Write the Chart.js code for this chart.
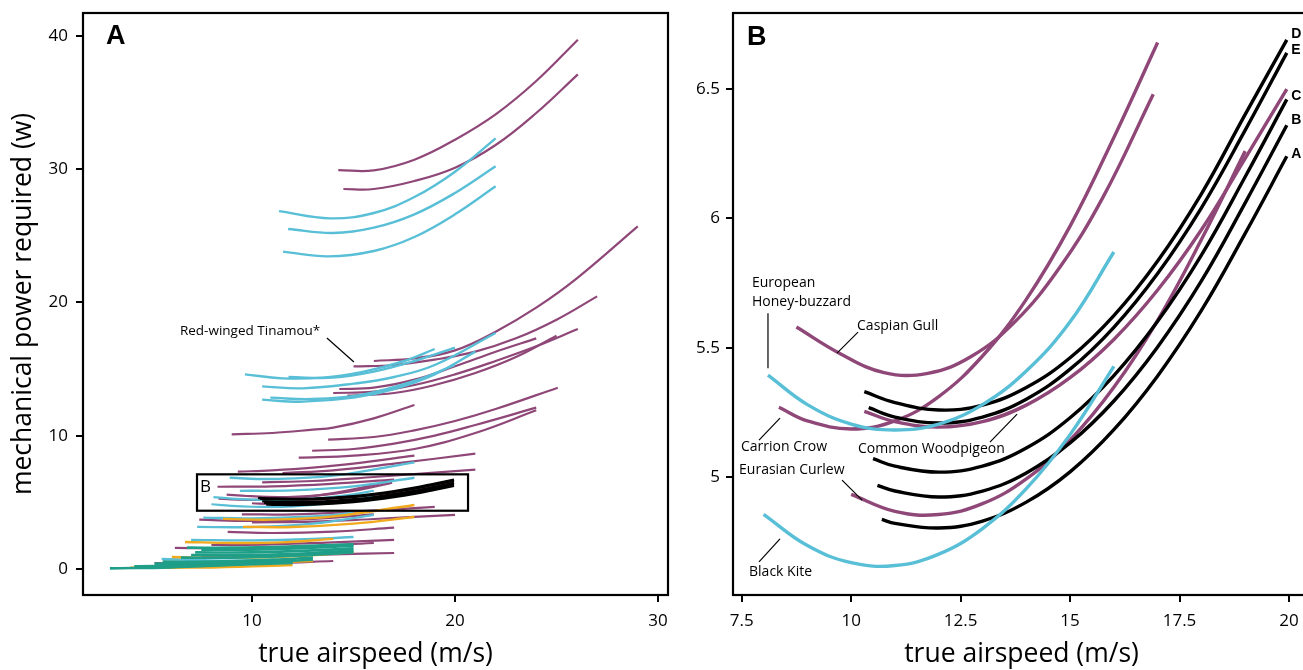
<!DOCTYPE html>
<html>
<head>
<meta charset="utf-8">
<script src="https://cdn.jsdelivr.net/npm/chart.js@4.4.1/dist/chart.umd.min.js"></script>
<style>
  html, body { margin: 0; padding: 0; background: #fff; overflow: hidden; width: 1303px; height: 670px; }
  #wrapA { position: absolute; left: 0; top: 0; width: 680px; height: 670px; }
  #wrapB { position: absolute; left: 650px; top: 0; width: 680px; height: 670px; }
</style>
</head>
<body>
<div id="wrapA"><canvas id="panelA"></canvas></div>
<div id="wrapB"><canvas id="panelB"></canvas></div>
<script>
const PURPLE = "#8f4778";
const CYAN = "#58bfd7";
const ORANGE = "#f1a91d";
const GREEN = "#1f9e88";
const BLACK = "#000000";

// tick labels
const ticksAx = [10, 20, 30];
const ticksAy = [0, 10, 20, 30, 40];
const ticksBx = [7.5, 10, 12.5, 15, 17.5, 20];
const ticksBy = [5, 5.5, 6, 6.5];

// panel B curves: [airspeed m/s, power W]
const birdA = [[10.7,4.836],[11,4.821],[12,4.803],[13,4.83],[14,4.903],[15,5.02],[16,5.183],[17,5.391],[18,5.644],[19,5.942],[19.95,6.24]];
const birdB = [[10.6,4.968],[11,4.946],[12,4.923],[13,4.946],[14,5.016],[15,5.132],[16,5.294],[17,5.503],[18,5.758],[19,6.06],[19.95,6.36]];
const birdC = [[10.5,5.071],[11,5.042],[12,5.019],[13,5.042],[14,5.112],[15,5.229],[16,5.392],[17,5.602],[18,5.858],[19,6.161],[19.95,6.46]];
const birdD = [[10.3,5.33],[11,5.288],[12,5.259],[13,5.278],[14,5.346],[15,5.461],[16,5.624],[17,5.835],[18,6.095],[19,6.402],[19.95,6.69]];
const birdE = [[10.4,5.268],[11,5.232],[12,5.209],[13,5.232],[14,5.301],[15,5.417],[16,5.579],[17,5.787],[18,6.041],[19,6.341],[19.95,6.64]];
const woodpigeon = [[10.3,5.254],[11,5.214],[12,5.193],[13,5.214],[14,5.278],[15,5.384],[16,5.532],[17,5.723],[18,5.956],[19,6.232],[19.95,6.5]];
const curlew = [[10,4.933],[11,4.867],[12,4.855],[13,4.897],[14,4.993],[15,5.143],[16,5.347],[17,5.606],[18,5.918],[19,6.26]];
const caspianGull = [[8.75,5.58],[9.75,5.477],[10.75,5.404],[11.75,5.401],[12.75,5.467],[13.75,5.602],[14.75,5.807],[15.75,6.081],[16.9,6.48]];
const carrionCrow = [[8.35,5.27],[9,5.217],[10,5.186],[11,5.217],[12,5.311],[13,5.468],[14,5.687],[15,5.97],[16,6.313],[17,6.68]];
const honeyBuzzard = [[8.1,5.394],[9,5.28],[10,5.205],[11,5.182],[12,5.205],[13,5.28],[14,5.41],[15,5.6],[16,5.87]];
const blackKite = [[8,4.856],[9,4.735],[10,4.669],[11,4.658],[12,4.702],[13,4.801],[14,4.955],[15,5.164],[16,5.428]];

// panel A: other species
const purpleA = [
  [[14.25,29.92],[16,29.9],[18,30.7],[20,32.2],[22,34.1],[24,36.6],[26.05,39.7]],
  [[14.5,28.5],[16,28.5],[18,29.1],[20,30.1],[22,31.8],[24,34.2],[26.05,37.1]],
  [[16,15.6],[18,15.8],[20,16.4],[22,17.8],[24,19.6],[26,21.8],[29,25.7]],
  [[15,15.2],[17,15.3],[19,15.7],[21,16.3],[23,17.3],[25,18.7],[27,20.45]],
  [[14,13.2],[16,13.3],[18,13.8],[20,14.6],[22,15.6],[24,16.7],[26.05,18.0]],
  [[14.7,13.0],[17,13.2],[19,13.8],[21,14.7],[23,15.9],[25,17.5]],
  [[14.3,13.5],[16,13.6],[18,14.2],[20,15.2],[22,16.3],[24,17.3]],
  [[9,10.1],[11,10.2],[13,10.45],[14,10.6],[16,11.3],[18,12.3]],
  [[13.75,9.7],[16,9.9],[18,10.4],[20,11.1],[22,12.0],[25.06,13.6]],
  [[12.96,8.87],[15,9.0],[17,9.4],[19,10.0],[21,10.8],[24,12.1]],
  [[12.3,8.35],[15,8.5],[18,9.0],[21,10.2],[24,11.9]],
  [[9.3,7.3],[11,7.4],[13,7.6],[15,7.9],[18,8.5]],
  [[11.5,7.2],[14,7.4],[17,7.9],[21,8.65]],
  [[10.5,6.5],[13,6.6],[16,6.9],[21,7.45]],
  [[8.3,6.17],[11,6.2],[14,6.4],[17,6.7]],
  [[9.5,4.1],[12,4.1],[15,4.3],[19,4.66]],
  [[10,3.5],[13,3.55],[16,3.75],[20,4.06]],
  [[8.8,2.78],[11,2.7],[14,2.8],[17,3.1]],
  [[7.4,3.7],[10,3.6],[13,3.75],[16,4.1]],
  [[8,1.8],[11,1.85],[14,2.0],[17,2.18]],
  [[6.2,1.58],[9,1.55],[12,1.65],[16,1.95]],
  [[7.5,0.9],[11,1.0],[14,1.1],[17,1.2]],
  [[5.2,0.45],[8,0.4],[11,0.45],[14,0.6]]
];
const cyanA = [
  [[11.33,26.84],[13.85,26.3],[16,26.7],[18,27.9],[20,29.8],[22,32.3]],
  [[11.78,25.5],[14,25.2],[16,25.6],[18,26.6],[20,28.2],[22,30.2]],
  [[11.53,23.8],[13.75,23.45],[16,23.85],[18,24.9],[20,26.6],[22,28.7]],
  [[9.65,14.6],[11.5,14.3],[13.5,14.35],[15.5,14.8],[17.5,15.6],[19,16.5]],
  [[10.5,13.7],[12.5,13.55],[15,13.9],[17,14.4],[19,15.3],[22,17.7]],
  [[10.5,12.7],[12.5,12.55],[15,12.85],[17,13.5],[19,14.6],[21,16.3]],
  [[10.9,12.85],[13,12.75],[15.5,13.1],[18,14.1],[20,15.3]],
  [[11.8,14.4],[14,14.35],[16,14.8],[18,15.6],[20,16.6]],
  [[8.9,6.84],[11,6.75],[14,7.0],[18,8.0]],
  [[9.4,5.86],[12,5.9],[15,6.2],[18,6.84]],
  [[7.6,3.85],[10,3.8],[13,3.95],[15,4.2]],
  [[7.3,3.16],[10,3.15],[13,3.4],[16,4.06]],
  [[7.0,2.18],[10,2.15],[13,2.25],[15,2.4]],
  [[5.55,0.75],[8,0.65],[10,0.63],[12,0.68]]
];
const orangeA = [
  [[8.57,3.76],[11,3.7],[14,3.95],[18,4.8]],
  [[9.55,3.16],[12,3.15],[15,3.4],[18,3.9]],
  [[6.7,2.03],[9,1.95],[11.5,2.0],[14,2.26]],
  [[6.05,0.9],[9,0.85],[12,0.95],[15,1.28]],
  [[6.5,0.5],[9,0.45],[11,0.5],[13,0.6]],
  [[4.0,0.1],[7,0.1],[10,0.2],[12,0.3]]
];
const greenA = [
  [[3.0,0.05],[6,0.12],[9,0.3],[12,0.45]],
  [[4.2,0.2],[7,0.25],[10,0.4],[12,0.55]],
  [[5.2,0.4],[8,0.4],[11,0.55],[13,0.7]],
  [[5.6,0.55],[8,0.55],[11,0.7],[13,0.85]],
  [[6.5,0.85],[9,0.85],[12,1.0],[15,1.25]],
  [[7.0,1.05],[10,1.05],[13,1.2],[15,1.4]],
  [[7.2,1.25],[10,1.25],[13,1.4],[15,1.55]],
  [[7.5,1.45],[10,1.45],[13,1.6],[15,1.75]],
  [[6.8,1.6],[9,1.6],[12,1.7],[15,1.85]]
];

const blackB = [birdA, birdB, birdC, birdD, birdE];
const purpleB = [woodpigeon, curlew, caspianGull, carrionCrow];
const cyanB = [honeyBuzzard, blackKite];

const FONT = "'Open Sans', 'DejaVu Sans', sans-serif";

function curve(pts, color, width, order) {
  return {
    data: pts.map(([x, y]) => ({ x, y })),
    borderColor: color,
    borderWidth: width,
    pointRadius: 0,
    fill: false,
    tension: 0.4,
    order: order,
  };
}

// frame + text notes, given in data units
function notes(cfg) {
  return {
    id: "notes",
    afterDatasetsDraw(chart) {
      const { ctx, chartArea: a, scales: { x, y } } = chart;
      ctx.save();
      ctx.strokeStyle = "#000";
      ctx.lineWidth = 1.2;
      (cfg.leaders || []).forEach(([x1, y1, x2, y2]) => {
        ctx.beginPath();
        ctx.moveTo(x.getPixelForValue(x1), y.getPixelForValue(y1));
        ctx.lineTo(x.getPixelForValue(x2), y.getPixelForValue(y2));
        ctx.stroke();
      });
      ctx.lineWidth = 2.2;
      (cfg.boxes || []).forEach(([x1, y1, x2, y2]) => {
        const px = x.getPixelForValue(x1), py = y.getPixelForValue(y1);
        ctx.strokeRect(px, py, x.getPixelForValue(x2) - px, y.getPixelForValue(y2) - py);
      });
      ctx.fillStyle = "#000";
      ctx.textBaseline = "middle";
      ctx.textAlign = "left";
      (cfg.texts || []).forEach(([txt, tx, ty, font]) => {
        ctx.font = font;
        ctx.fillText(txt, x.getPixelForValue(tx), y.getPixelForValue(ty));
      });
      ctx.lineWidth = 2.2;
      ctx.strokeRect(a.left, a.top, a.right - a.left, a.bottom - a.top);
      ctx.restore();
    },
  };
}

function axis(min, max, ticks, title, pad, titlePad) {
  return {
    type: "linear",
    min: min,
    max: max,
    afterBuildTicks: (s) => { s.ticks = ticks.map((v) => ({ value: v })); },
    afterFit: (s) => {
      if (s.isHorizontal()) s.height = 75; else s.width = 83;
      s.paddingTop = 0; s.paddingBottom = 0; s.paddingLeft = 0; s.paddingRight = 0;
    },
    ticks: { color: "#000", font: { family: FONT, size: 17 }, padding: pad, maxRotation: 0, callback: (v) => String(v) },
    grid: { drawOnChartArea: false, drawTicks: true, tickLength: 7, color: "#000", lineWidth: 2 },
    border: { display: false },
    title: { display: !!title, text: title, color: "#000", font: { family: FONT, size: 26.5 }, padding: titlePad },
  };
}

function baseOptions(scales, padRight) {
  return {
    responsive: true,
    maintainAspectRatio: false,
    animation: false,
    layout: { padding: { top: 13, right: padRight, left: 0, bottom: 0 } },
    plugins: { legend: { display: false }, tooltip: { enabled: false } },
    scales: scales,
  };
}

const LABEL = "14px " + FONT;
const LETTER = "bold 14px 'Liberation Sans', Arial, sans-serif";
const PANEL = "bold 27px 'Liberation Sans', Arial, sans-serif";

// panel A
const dsA = [];
blackB.forEach((c) => dsA.push(curve(c, BLACK, 2.4, 0)));
greenA.forEach((c) => dsA.push(curve(c, GREEN, 2.6, 1)));
orangeA.forEach((c) => dsA.push(curve(c, ORANGE, 2.4, 2)));
cyanB.forEach((c) => dsA.push(curve(c, CYAN, 2.2, 3)));
cyanA.forEach((c) => dsA.push(curve(c, CYAN, 2.4, 3)));
purpleB.forEach((c) => dsA.push(curve(c, PURPLE, 2.2, 4)));
purpleA.forEach((c) => dsA.push(curve(c, PURPLE, 2.2, 4)));

new Chart(document.getElementById("panelA"), {
  type: "line",
  data: { datasets: dsA },
  options: baseOptions({
    x: axis(1.675, 30.49, ticksAx, "true airspeed (m/s)", 9, { top: 0, bottom: 0 }),
    y: axis(-1.95, 41.7, ticksAy, "mechanical power required (w)", 8, { top: 8, bottom: 0 }),
  }, 12),
  plugins: [notes({
    texts: [
      ["A", 2.81, 39.9, PANEL],
      ["Red-winged Tinamou*", 6.45, 17.85, "13.5px " + FONT],
      ["B", 7.44, 6.15, "17px " + FONT],
    ],
    leaders: [[13.69, 17.33, 15.02, 15.53]],
    boxes: [[7.29, 7.1, 20.64, 4.37]],
  })],
});

// panel B
const dsB = [];
blackB.forEach((c) => dsB.push(curve(c, BLACK, 3.4, 1)));
purpleB.forEach((c) => dsB.push(curve(c, PURPLE, 3.4, 2)));
cyanB.forEach((c) => dsB.push(curve(c, CYAN, 3.4, 0)));

new Chart(document.getElementById("panelB"), {
  type: "line",
  data: { datasets: dsB },
  options: baseOptions({
    x: axis(7.301, 20.48, ticksBx, "true airspeed (m/s)", 9, { top: 0, bottom: 0 }),
    y: axis(4.544, 6.794, ticksBy, "", 6, 0),
  }, 20),
  plugins: [notes({
    texts: [
      ["B", 7.62, 6.699, PANEL],
      ["European", 7.735, 5.749, LABEL],
      ["Honey-buzzard", 7.735, 5.676, LABEL],
      ["Caspian Gull", 10.134, 5.583, LABEL],
      ["Carrion Crow", 7.484, 5.116, LABEL],
      ["Common Woodpigeon", 10.157, 5.108, LABEL],
      ["Eurasian Curlew", 7.44, 5.027, LABEL],
      ["Black Kite", 7.667, 4.633, LABEL],
      ["D", 20.05, 6.714, LETTER],
      ["E", 20.05, 6.649, LETTER],
      ["C", 20.05, 6.471, LETTER],
      ["B", 20.05, 6.378, LETTER],
      ["A", 20.05, 6.247, LETTER],
    ],
    leaders: [
      [8.1, 5.633, 8.1, 5.421],
      [9.677, 5.479, 10.157, 5.56],
      [7.895, 5.143, 8.375, 5.228],
      [13.17, 5.135, 13.79, 5.243],
      [9.792, 4.988, 10.25, 4.911],
      [7.895, 4.672, 8.375, 4.761],
    ],
  })],
});
</script>
</body>
</html>
